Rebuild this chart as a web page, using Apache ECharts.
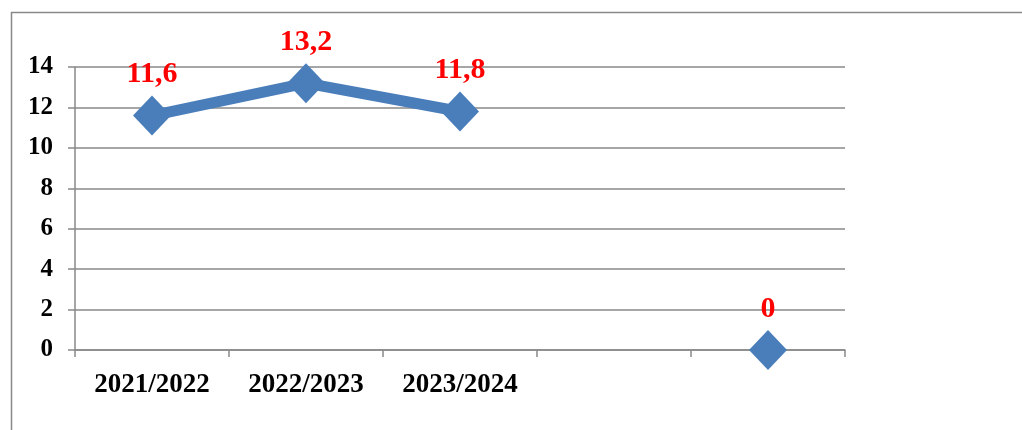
<!DOCTYPE html>
<html><head><meta charset="utf-8">
<script src="https://cdn.jsdelivr.net/npm/echarts@6/dist/echarts.min.js"></script>
<style>html,body{margin:0;padding:0;background:#fff}#c{width:1022px;height:430px}</style>
</head><body><div id="c"></div>
<script>
const categories = ['2021/2022', '2022/2023', '2023/2024', '', ''];
const values = [11.6, 13.2, 11.8, null, 0];
const yTicks = { min: 0, max: 14, interval: 2 };

const chart = echarts.init(document.getElementById('c'));
const grey = '#898989';
chart.setOption({
  animation: false,
  backgroundColor: '#fff',
  graphic: [{
    type: 'rect', shape: { x: 11.5, y: 12.5, width: 1100, height: 500 },
    style: { fill: 'none', stroke: grey, lineWidth: 1.5 }, silent: true
  }],
  grid: { left: 75, right: 177, top: 67, bottom: 80 },
  xAxis: {
    type: 'category', data: categories, boundaryGap: true,
    axisLine: { lineStyle: { color: grey, width: 1.5 } },
    axisTick: { show: true, length: 7, alignWithLabel: false, lineStyle: { color: grey, width: 1.5 } },
    axisLabel: { color: '#000', fontFamily: 'Liberation Serif', fontWeight: 'bold', fontSize: 27, margin: 22, interval: 0 }
  },
  yAxis: {
    type: 'value', min: yTicks.min, max: yTicks.max, interval: yTicks.interval,
    axisLine: { show: true, lineStyle: { color: grey, width: 1.5 } },
    axisTick: { show: true, length: 7, lineStyle: { color: grey, width: 1.5 } },
    splitLine: { lineStyle: { color: grey, width: 1.5 } },
    axisLabel: { color: '#000', fontFamily: 'Liberation Serif', fontWeight: 'bold', fontSize: 25, margin: 22, padding: [3, 0, 0, 0] }
  },
  series: [{
    type: 'line', data: values, connectNulls: false, showAllSymbol: true,
    symbol: 'diamond', symbolSize: [38, 40],
    lineStyle: { color: '#4a7ebb', width: 11 },
    itemStyle: { color: '#4a7ebb' },
    label: {
      show: true, position: 'top', distance: 6,
      color: '#ff0000', fontFamily: 'Liberation Serif', fontWeight: 'bold', fontSize: 30,
      formatter: p => String(p.value).replace('.', ',')
    }
  }]
});
</script></body></html>
